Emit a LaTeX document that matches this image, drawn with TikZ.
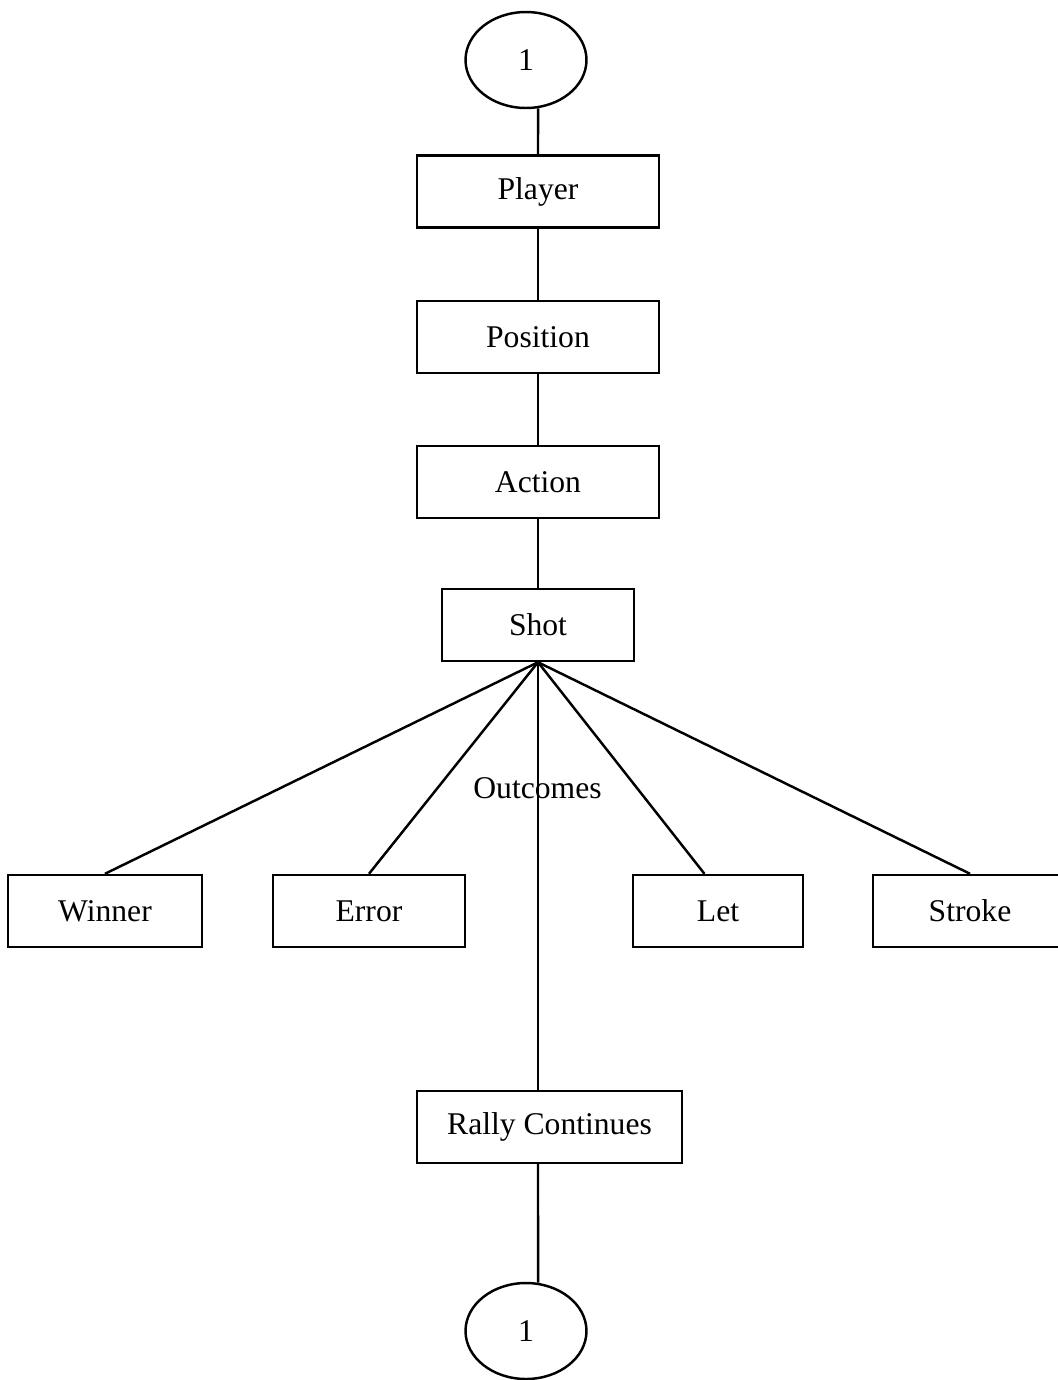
\documentclass[tikz,border=0pt]{standalone}
\usepackage{fontspec}
\setmainfont{Liberation Serif}
\usetikzlibrary{positioning, shapes.geometric, calc}

\begin{document}
\begin{tikzpicture}[
    x=0.02cm, y=-0.02cm,
    line width=1.4pt,
    block/.style={draw, rectangle, minimum height=1.44cm, inner sep=0pt, text centered, font=\fontsize{18}{20}\selectfont},
    oval/.style={draw, ellipse, minimum width=2.42cm, minimum height=1.92cm, inner sep=0pt, font=\fontsize{18}{20}\selectfont},
    link/.style={draw, line width=1.4pt},
]
\useasboundingbox (0,0) rectangle (1058,1380);

% ── Spine ──
\node[oval] (top) at (526, 60) {1};
\node[block, minimum width=4.84cm] (player) at (538, 191.5) {Player};
\node[block, minimum width=4.84cm] (position) at (538, 337) {Position};
\node[block, minimum width=4.84cm] (action) at (538, 482) {Action};
\node[block, minimum width=3.84cm] (shot) at (538, 625) {Shot};

% ── Outcomes ──
\node[block, minimum width=3.88cm] (winner) at (105, 911) {Winner};
\node[block, minimum width=3.84cm] (error) at (369, 911) {Error};
\node[block, minimum width=3.40cm] (let) at (718, 911) {Let};
\node[block, minimum width=3.88cm] (stroke) at (970, 911) {Stroke};
\node[font=\fontsize{18}{20}\selectfont] (outcomes) at (537.5, 788) {Outcomes};

\node[block, minimum width=5.30cm] (rally) at (549.5, 1127) {Rally Continues};
\node[oval] (bottom) at (526, 1331) {1};

% ── Connectors ──
\draw[link] (top.284) -- (player.north);
\draw[link] (player) -- (position);
\draw[link] (position) -- (action);
\draw[link] (action) -- (shot);
\draw[link] (shot.south) -- (winner.north);
\draw[link] (shot.south) -- (error.north);
\draw[link] (shot.south) -- (let.110);
\draw[link] (shot.south) -- (stroke.north);
\draw[link] (shot.south) -- (shot.south |- rally.north);
\draw[link] (shot.south |- rally.south) -- (bottom.76);

\end{tikzpicture}
\end{document}
